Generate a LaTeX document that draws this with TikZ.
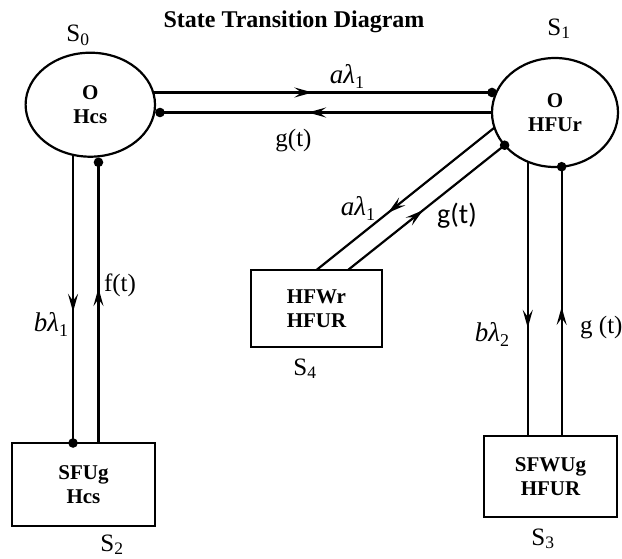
\documentclass[tikz,border=0pt]{standalone}
\usepackage{fontspec}
\setmainfont{Liberation Serif}
\newfontfamily\calfont{Carlito}
\usetikzlibrary{shapes.geometric,arrows.meta,decorations.markings,calc}
\newcommand\nfont{\bfseries\fontsize{21}{24}\selectfont}
\newcommand\lfont{\fontsize{25}{28}\selectfont}
\newcommand\mfont{\itshape\fontsize{27}{30}\selectfont}
\newcommand\msub[1]{\raisebox{-5pt}{\upshape\fontsize{18}{20}\selectfont #1}}
\tikzset{
  state/.style={ellipse, draw, line width=2.2pt, inner sep=0pt, outer sep=0pt, align=center, font=\nfont},
  sbox/.style={rectangle, draw, line width=2.2pt, inner sep=0pt, outer sep=0pt, align=center, font=\nfont},
  conn/.style={line width=2.2pt},
  midarrow/.style={postaction={decorate,decoration={markings,
      mark=at position #1 with {\arrow{Stealth[length=18pt,width=10pt,inset=7pt]}}}}},
  lbl/.style={font=\lfont, inner sep=0pt, anchor=base},
  mlbl/.style={font=\mfont, inner sep=0pt, anchor=base},
  dotc/.style={fill=black}
}
\begin{document}
\begin{tikzpicture}[x=1pt,y=-1pt]
\useasboundingbox (0,0) rectangle (622,558);
% title
\node[font=\bfseries\fontsize{24}{28}\selectfont, inner sep=0pt, anchor=base] (title) at (294,27.5) {State Transition Diagram};
% states
\node[state, minimum width=129.4pt, minimum height=104pt] (s0) at (90.3,104.7) {O\\Hcs};
\node[state, minimum width=126pt, minimum height=109pt] (s1) at (555,112.5) {O\\HFUr};
\node[sbox, minimum width=143pt, minimum height=83pt] (s2) at (83.5,484.5) {SFUg\\Hcs};
\node[sbox, minimum width=133pt, minimum height=81pt] (s3) at (550.5,476.5) {SFWUg\\HFUR};
\node[sbox, minimum width=131pt, minimum height=77pt] (s4) at (316.5,308.5) {HFWr\\HFUR};
% state labels
\node[lbl] (l0) at (78,41.7) {S\textsubscript{0}};
\node[lbl] (l1) at (559,35) {S\textsubscript{1}};
\node[lbl] (l2) at (112,551) {S\textsubscript{2}};
\node[lbl] (l3) at (543,545) {S\textsubscript{3}};
\node[lbl] (l4) at (305,375) {S\textsubscript{4}};
% S0 <-> S1
\draw[conn, midarrow=0.47] (s0.11) -- (s0.11 -| s1.west) coordinate (d1);
\draw[conn, midarrow=0.554] (s1.west) -- ($(s1.west -| s0.east)+(5,0)$) coordinate (d2);
\fill[dotc] (d1) circle (4.8pt);
\fill[dotc] (d2) circle (4.8pt);
% S0 <-> S2
\draw[conn, midarrow=0.545] (s0.-109) -- (s0.-109 |- s2.north) coordinate (d3);
\draw[conn, midarrow=0.552] (s0.-81 |- s2.north) -- ($(s0.-81)+(0,6)$) coordinate (d4);
\fill[dotc] (d3) circle (4.8pt);
\fill[dotc] (d4) circle (4.8pt);
% S1 <-> S3
\draw[conn, midarrow=0.606] (s1.-119) -- (s1.-119 |- s3.north);
\draw[conn, midarrow=0.479] (s1.-83 |- s3.north) -- (s1.-83) coordinate (d5);
\fill[dotc] (d5) circle (4.8pt);
% S1 <-> S4
\draw[conn, midarrow=0.598] (s1.-166) -- (s4.north);
\draw[conn, midarrow=0.479] ($(s4.north)+(31.5,0)$) -- (s1.-147) coordinate (d6);
\fill[dotc] (d6) circle (4.8pt);
% transition labels
\node[mlbl] (t1) at (347,83) {aλ\msub{1}};
\node[lbl] (t2) at (293.5,146) {g(t)};
\node[lbl] (t3) at (120,291) {f(t)};
\node[mlbl] (t4) at (51,331) {bλ\msub{1}};
\node[mlbl] (t5) at (358,215) {aλ\msub{1}};
\node[lbl, font=\calfont\fontsize{28}{30}\selectfont] (t6) at (457,223) {g(t)};
\node[mlbl] (t7) at (492,341) {bλ\msub{2}};
\node[lbl, anchor=base west] (t8) at (580,333) {g (t)};
\end{tikzpicture}
\end{document}
